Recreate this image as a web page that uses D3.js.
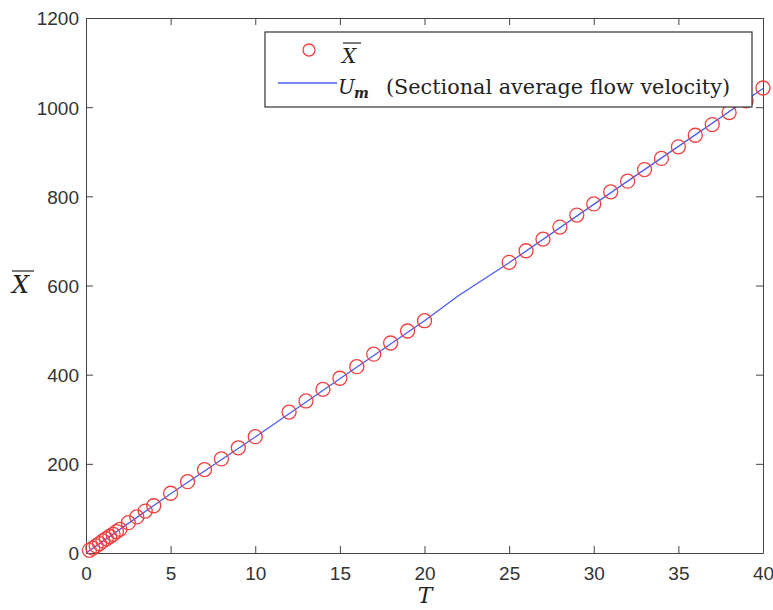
<!DOCTYPE html>
<html>
<head>
<meta charset="utf-8">
<script src="https://cdn.jsdelivr.net/npm/d3@7"></script>
<style>
  body { margin: 0; background: #fff; }
  .axis path, .axis line { stroke: #444; }
</style>
</head>
<body>
<svg id="chart" width="773" height="610"></svg>
<script>
// measured points (T, X)
var T_obs = [0.2, 0.4, 0.6, 0.8, 1.0, 1.2, 1.4, 1.6, 1.8, 2.0,
             2.5, 3, 3.5, 4, 5, 6, 7, 8, 9, 10,
             12, 13, 14, 15, 16, 17, 18, 19, 20,
             25, 26, 27, 28, 29, 30, 31, 32, 33, 34, 35, 36, 37, 38, 39, 40];
var X_obs = [6, 11, 16, 21, 27, 32, 37, 42, 48, 53,
             68, 81, 94, 106, 134, 160, 187, 211, 236, 261,
             316, 341, 367, 392, 418, 446, 471, 498, 521,
             652, 678, 704, 731, 758, 783, 810, 834, 860, 885, 911, 937, 961, 988, 1014, 1043];

// sectional average flow velocity line
var T_line = [0, 2, 5, 10, 15, 20, 22, 25, 30, 35, 40];
var X_line = [0, 53, 133, 260, 391, 521, 577, 651, 782, 912, 1042];

var x_ticks = [0, 5, 10, 15, 20, 25, 30, 35, 40];
var y_ticks = [0, 200, 400, 600, 800, 1000, 1200];

var LEFT = 86, RIGHT = 763, TOP = 18, BOTTOM = 553;

var svg = d3.select('#chart');
var x = d3.scaleLinear().domain([0, 40]).range([LEFT, RIGHT]);
var y = d3.scaleLinear().domain([0, 1200]).range([BOTTOM, TOP]);
var fmt = d3.format('d');

// axes box, MATLAB style ticks pointing in
var xb = svg.append('g').attr('class', 'axis')
    .attr('transform', 'translate(0,' + BOTTOM + ')')
    .call(d3.axisBottom(x).tickValues(x_ticks).tickFormat(fmt).tickSize(-7).tickPadding(9).tickSizeOuter(0));
svg.append('g').attr('class', 'axis')
    .attr('transform', 'translate(0,' + TOP + ')')
    .call(d3.axisTop(x).tickValues(x_ticks).tickSize(-7).tickFormat('').tickSizeOuter(0));
var yl = svg.append('g').attr('class', 'axis')
    .attr('transform', 'translate(' + LEFT + ',0)')
    .call(d3.axisLeft(y).tickValues(y_ticks).tickFormat(fmt).tickSize(-7).tickPadding(7).tickSizeOuter(0));
svg.append('g').attr('class', 'axis')
    .attr('transform', 'translate(' + RIGHT + ',0)')
    .call(d3.axisRight(y).tickValues(y_ticks).tickSize(-7).tickFormat('').tickSizeOuter(0));

[xb, yl].forEach(function(g){
    g.selectAll('.tick text')
        .style('font-family', '"Liberation Sans", Arial, sans-serif')
        .style('font-size', '19px')
        .style('fill', '#333');
});
xb.selectAll('.tick text').attr('dy', '0.95em');
yl.selectAll('.tick text').attr('dy', '0.36em');

// line
var lineData = T_line.map(function(t, i){ return [t, X_line[i]]; });
svg.append('path')
    .datum(lineData)
    .attr('d', d3.line().x(function(d){ return x(d[0]); }).y(function(d){ return y(d[1]); }))
    .attr('fill', 'none')
    .attr('stroke', '#4a5cf5')
    .attr('stroke-width', 1.3);

// markers
svg.selectAll('circle.pt')
    .data(T_obs)
    .enter().append('circle')
    .attr('class', 'pt')
    .attr('cx', function(d){ return x(d); })
    .attr('cy', function(d, i){ return y(X_obs[i]); })
    .attr('r', 7)
    .attr('fill', 'none')
    .attr('stroke', '#f04040')
    .attr('stroke-width', 1.3);

// legend
var lg = svg.append('g');
lg.append('rect')
    .attr('x', 265).attr('y', 32).attr('width', 487).attr('height', 75)
    .attr('fill', '#fff').attr('stroke', '#333').attr('stroke-width', 1.2);
lg.append('circle')
    .attr('cx', 309).attr('cy', 50).attr('r', 6)
    .attr('fill', 'none').attr('stroke', '#f04040').attr('stroke-width', 1.3);
lg.append('text')
    .attr('x', 342).attr('y', 63)
    .style('font-family', '"DejaVu Serif", serif').style('font-style', 'italic').style('font-size', '20px')
    .style('fill', '#222')
    .text('X');
lg.append('line').attr('x1', 343).attr('x2', 361).attr('y1', 43).attr('y2', 43)
    .attr('stroke', '#222').attr('stroke-width', 1.2);
lg.append('line')
    .attr('x1', 278).attr('x2', 337).attr('y1', 83).attr('y2', 83)
    .attr('stroke', '#4a5cf5').attr('stroke-width', 1.3);
var ls = { f: '"DejaVu Serif", serif' };
lg.append('text')
    .attr('x', 338).attr('y', 94)
    .style('font-family', ls.f).style('font-style', 'italic').style('font-size', '20px').style('fill', '#222')
    .text('U');
lg.append('text')
    .attr('x', 354).attr('y', 98)
    .style('font-family', ls.f).style('font-style', 'italic').style('font-weight', 'bold').style('font-size', '14px').style('fill', '#222')
    .text('m');
lg.append('text')
    .attr('x', 386).attr('y', 94)
    .attr('textLength', 344).attr('lengthAdjust', 'spacingAndGlyphs')
    .style('font-family', ls.f).style('font-size', '20px').style('fill', '#222')
    .text('(Sectional average flow velocity)');

// axis labels
svg.append('text')
    .attr('x', 425).attr('y', 603).attr('text-anchor', 'middle')
    .style('font-family', '"DejaVu Serif", serif').style('font-style', 'italic').style('font-size', '22px')
    .style('fill', '#222')
    .text('T');
svg.append('text')
    .attr('x', 12).attr('y', 293)
    .style('font-family', '"DejaVu Serif", serif').style('font-style', 'italic').style('font-size', '24px')
    .style('fill', '#222')
    .text('X');
svg.append('line').attr('x1', 12).attr('x2', 34).attr('y1', 271).attr('y2', 271)
    .attr('stroke', '#222').attr('stroke-width', 1.2);
</script>
</body>
</html>
